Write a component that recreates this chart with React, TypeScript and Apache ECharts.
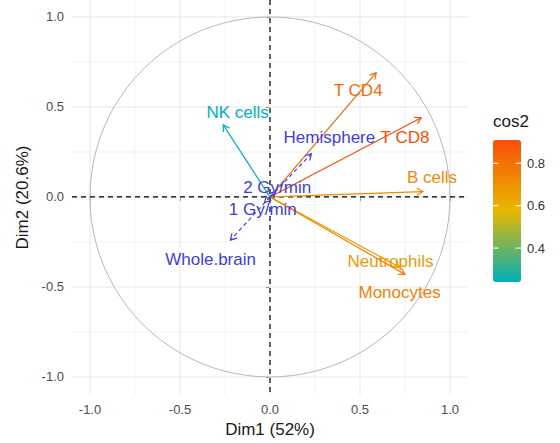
import React, { useEffect, useRef } from "react";
import * as echarts from "echarts";

// Active variables (coordinates on Dim1 / Dim2) and their cos2
const varNames = ["T CD4", "T CD8", "B cells", "Neutrophils", "Monocytes", "NK cells"];
const dim1 = [0.59, 0.84, 0.85, 0.72, 0.75, -0.26];
const dim2 = [0.69, 0.44, 0.03, -0.39, -0.43, 0.4];
const cos2 = [0.82, 0.91, 0.72, 0.67, 0.75, 0.24];
const labelDim1 = [0.49, 0.75, 0.9, 0.67, 0.72, -0.18];
const labelDim2 = [0.59, 0.33, 0.11, -0.36, -0.53, 0.47];

// Supplementary quantitative variables
const supNames = ["Hemisphere", "2 Gy/min", "1 Gy/min", "Whole.brain"];
const supDim1 = [0.23, 0.03, -0.03, -0.22];
const supDim2 = [0.24, 0.03, -0.03, -0.24];
const supLabelDim1 = [0.33, 0.04, -0.04, -0.33];
const supLabelDim2 = [0.33, 0.055, -0.072, -0.35];

const tickValues = [-1, -0.5, 0, 0.5, 1];
const minorValues = [-0.75, -0.25, 0.25, 0.75];
const legendBreaks = [0.4, 0.6, 0.8];
const cos2Min = 0.24;
const cos2Max = 0.91;
const gradientColors = ["#00AFBB", "#E7B800", "#FC4E07"];

const FONT = "'Liberation Sans', Arial, Helvetica, sans-serif";
const SUP_COLOR = "#4040E0";

function arrow(api: any, name: string, color: string, dashed: boolean) {
  const o = api.coord([0, 0]);
  const t = api.coord([api.value(0), api.value(1)]);
  const l = api.coord([api.value(3), api.value(4)]);
  const dx = t[0] - o[0];
  const dy = t[1] - o[1];
  const len = Math.hypot(dx, dy) || 1;
  const ux = dx / len;
  const uy = dy / len;
  const L = 7;
  const a = Math.PI / 6;
  const c = Math.cos(a);
  const s = Math.sin(a);
  const p1 = [t[0] - L * (ux * c - uy * s), t[1] - L * (uy * c + ux * s)];
  const p2 = [t[0] - L * (ux * c + uy * s), t[1] - L * (uy * c - ux * s)];
  return {
    type: "group",
    children: [
      {
        type: "line",
        shape: { x1: o[0], y1: o[1], x2: t[0], y2: t[1] },
        style: { stroke: color, lineWidth: 1.2, lineDash: dashed ? [4, 3] : null },
      },
      {
        type: "polyline",
        shape: { points: [p1, t, p2] },
        style: { stroke: color, lineWidth: 1.2, fill: null },
      },
      {
        type: "text",
        style: {
          text: name,
          x: l[0],
          y: l[1],
          fill: color,
          font: `17px ${FONT}`,
          align: "center",
          verticalAlign: "middle",
        },
      },
    ],
  };
}

export default function App() {
  const ref = useRef<HTMLDivElement>(null);
  useEffect(() => {
    const chart = echarts.init(ref.current!, null, { renderer: "svg" });

    const gridData: number[][] = [];
    tickValues.forEach((v) => gridData.push([v, 0, 1]));
    minorValues.forEach((v) => gridData.push([v, 0, 0]));
    tickValues.forEach((v) => gridData.push([v, 1, 1]));
    minorValues.forEach((v) => gridData.push([v, 1, 0]));

    const barLeft = 493;
    const barTop = 140;
    const barW = 28;
    const barH = 142;
    const legY = (v: number) => barTop + ((cos2Max - v) / (cos2Max - cos2Min)) * barH;

    const legendGraphics: any[] = [
      {
        type: "text",
        left: barLeft,
        top: 113,
        style: { text: "cos2", font: `17px ${FONT}`, fill: "#1a1a1a" },
      },
    ];
    legendBreaks.forEach((b) => {
      const y = legY(b);
      legendGraphics.push({
        type: "text",
        x: barLeft + barW + 6,
        y,
        style: {
          text: b.toFixed(1),
          font: `13px ${FONT}`,
          fill: "#333333",
          align: "left",
          verticalAlign: "middle",
        },
      });
      legendGraphics.push({
        type: "line",
        shape: { x1: barLeft, y1: y, x2: barLeft + 5.6, y2: y },
        style: { stroke: "#ffffff", lineWidth: 1 },
        z: 100,
      });
      legendGraphics.push({
        type: "line",
        shape: { x1: barLeft + barW - 5.6, y1: y, x2: barLeft + barW, y2: y },
        style: { stroke: "#ffffff", lineWidth: 1 },
        z: 100,
      });
    });

    const option: any = {
      animation: false,
      textStyle: { fontFamily: FONT },
      grid: { left: 72, top: 0, width: 396, height: 395 },
      xAxis: {
        type: "value",
        min: -1.1,
        max: 1.1,
        name: "Dim1 (52%)",
        nameLocation: "middle",
        nameGap: 26,
        nameTextStyle: { fontSize: 17, color: "#1a1a1a", fontFamily: FONT },
        axisLine: { show: false },
        axisTick: { show: true, customValues: tickValues, length: 4, lineStyle: { color: "#333333" } },
        axisLabel: {
          customValues: tickValues,
          formatter: (v: number) => v.toFixed(1),
          fontSize: 13,
          color: "#4D4D4D",
          margin: 8,
          fontFamily: FONT,
        },
        splitLine: { show: false },
      },
      yAxis: {
        type: "value",
        min: -1.1,
        max: 1.094,
        name: "Dim2 (20.6%)",
        nameLocation: "middle",
        nameGap: 37,
        nameTextStyle: { fontSize: 17, color: "#1a1a1a", fontFamily: FONT },
        axisLine: { show: false },
        axisTick: { show: true, customValues: tickValues, length: 4, lineStyle: { color: "#333333" } },
        axisLabel: {
          customValues: tickValues,
          formatter: (v: number) => v.toFixed(1),
          fontSize: 13,
          color: "#4D4D4D",
          margin: 8,
          fontFamily: FONT,
        },
        splitLine: { show: false },
      },
      visualMap: {
        type: "continuous",
        seriesIndex: 3,
        dimension: 2,
        min: cos2Min,
        max: cos2Max,
        calculable: false,
        orient: "vertical",
        left: barLeft,
        top: barTop,
        padding: 0,
        itemWidth: barW,
        itemHeight: barH,
        inRange: { color: gradientColors },
        text: null,
        showLabel: false,
      },
      graphic: legendGraphics,
      series: [
        {
          type: "custom",
          silent: true,
          z: 1,
          data: gridData,
          renderItem: (params: any, api: any) => {
            const cs = params.coordSys;
            const v = api.value(0);
            const orient = api.value(1);
            const major = api.value(2) === 1;
            const style = { stroke: "#EBEBEB", lineWidth: major ? 1.2 : 0.6 };
            if (orient === 0) {
              const x = api.coord([v, 0])[0];
              return { type: "line", shape: { x1: x, y1: cs.y, x2: x, y2: cs.y + cs.height }, style };
            }
            const y = api.coord([0, v])[1];
            return { type: "line", shape: { x1: cs.x, y1: y, x2: cs.x + cs.width, y2: y }, style };
          },
        },
        {
          type: "custom",
          silent: true,
          z: 2,
          data: [[0, 0]],
          renderItem: (params: any, api: any) => {
            const c = api.coord([0, 0]);
            const r = api.size([1, 1])[0];
            return {
              type: "circle",
              shape: { cx: c[0], cy: c[1], r },
              style: { stroke: "#B8B8B8", lineWidth: 1, fill: null },
            };
          },
        },
        {
          type: "custom",
          silent: true,
          z: 3,
          data: [
            [0, 0],
            [0, 1],
          ],
          renderItem: (params: any, api: any) => {
            const cs = params.coordSys;
            const orient = api.value(1);
            const style = { stroke: "#000000", lineWidth: 1.2, lineDash: [5, 4] };
            if (orient === 0) {
              const x = api.coord([0, 0])[0];
              return { type: "line", shape: { x1: x, y1: cs.y, x2: x, y2: cs.y + cs.height }, style };
            }
            const y = api.coord([0, 0])[1];
            return { type: "line", shape: { x1: cs.x, y1: y, x2: cs.x + cs.width, y2: y }, style };
          },
        },
        {
          type: "custom",
          silent: true,
          z: 5,
          data: varNames.map((n, i) => [dim1[i], dim2[i], cos2[i], labelDim1[i], labelDim2[i]]),
          renderItem: (params: any, api: any) =>
            arrow(api, varNames[params.dataIndex], api.visual("color"), false),
        },
        {
          type: "custom",
          silent: true,
          z: 6,
          data: supNames.map((n, i) => [supDim1[i], supDim2[i], 0, supLabelDim1[i], supLabelDim2[i]]),
          renderItem: (params: any, api: any) => arrow(api, supNames[params.dataIndex], SUP_COLOR, true),
        },
      ],
    };
    chart.setOption(option);
    return () => chart.dispose();
  }, []);
  return <div ref={ref} style={{ position: "absolute", left: 0, top: 0, width: 560, height: 443 }} />;
}
